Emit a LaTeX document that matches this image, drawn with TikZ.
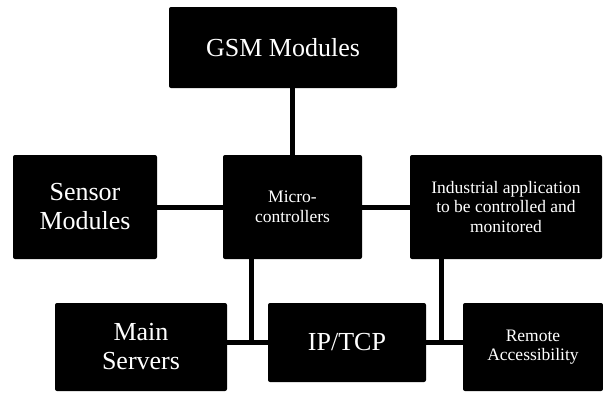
\documentclass[tikz,border=0pt]{standalone}
\usepackage{fontspec}
\setmainfont{Liberation Serif}
\newfontfamily\tnr{Liberation Serif}
\begin{document}
\begin{tikzpicture}[x=1pt,y=-1pt,
  box/.style={fill=black, draw=none, rounded corners=2pt, text=white, align=center, inner sep=0pt},
  big/.style={font=\tnr\fontsize{26}{29}\selectfont},
  small/.style={font=\tnr\fontsize{17.5}{19.5}\selectfont},
  conn/.style={line width=5pt, draw=black}]
\useasboundingbox (0,0) rectangle (603,392);
\node[box, big, minimum width=228pt, minimum height=81pt] (gsm) at (283,47.5) {GSM Modules};
\node[box, big, minimum width=144pt, minimum height=104pt] (sensor) at (85,207) {Sensor\\Modules};
\node[box, small, minimum width=139pt, minimum height=104pt] (micro) at (292.5,207) {Micro-\\controllers};
\node[box, small, minimum width=192pt, minimum height=104pt] (ind) at (506,207) {Industrial application\\to be controlled and\\monitored};
\node[box, big, minimum width=172pt, minimum height=88pt] (servers) at (141,347) {Main\\Servers};
\node[box, big, minimum width=158pt, minimum height=79pt] (ip) at (347,342.5) {IP/TCP};
\node[box, small, minimum width=140pt, minimum height=88pt] (remote) at (533,347) {Remote\\Accessibility};
\coordinate (j1) at (251,342);
\coordinate (j2) at (441,342);
\draw[conn] (micro.north) -- (micro.north |- gsm.south);
\draw[conn] (sensor.east) -- (micro.west);
\draw[conn] (micro.east) -- (ind.west);
\draw[conn] (micro.south -| j1) -- (j1);
\draw[conn] (servers.east |- j1) -- (ip.west |- j1);
\draw[conn] (ind.south -| j2) -- (j2);
\draw[conn] (ip.east |- j2) -- (remote.west |- j2);
\end{tikzpicture}
\end{document}
